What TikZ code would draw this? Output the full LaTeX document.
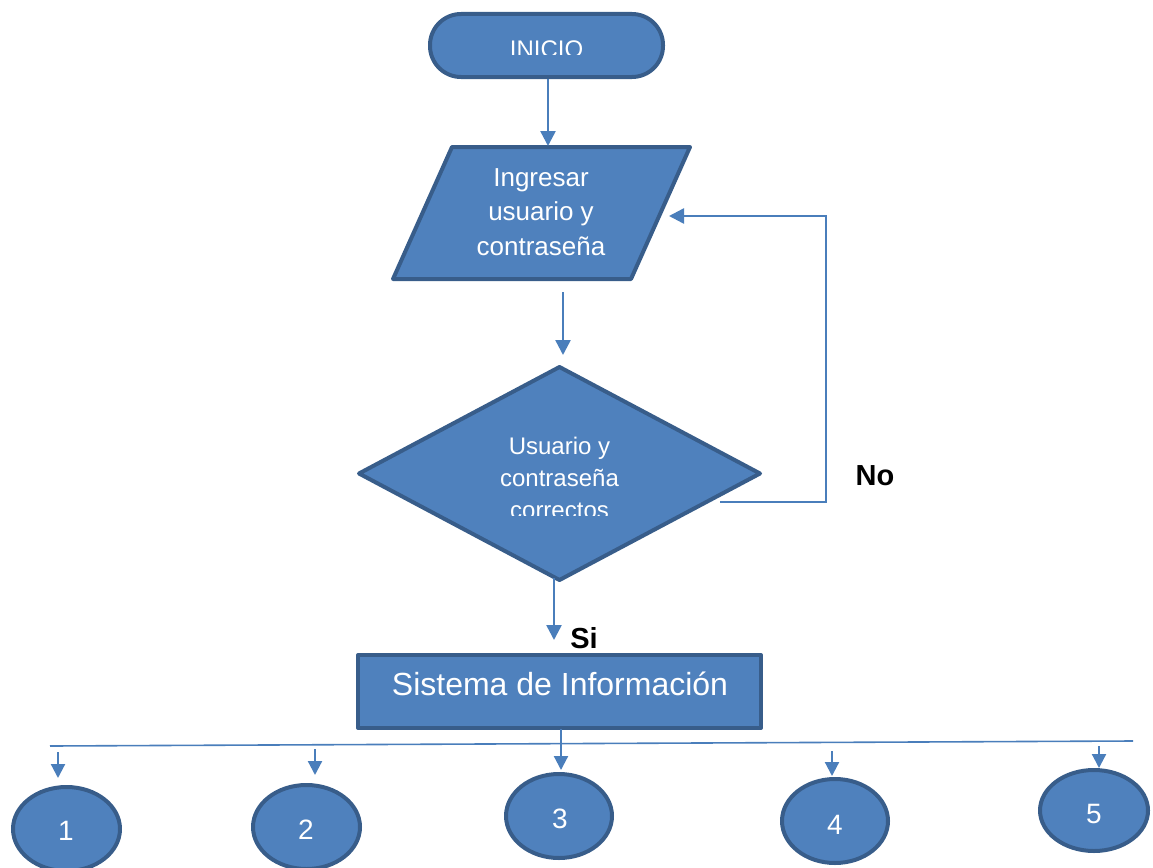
\documentclass[tikz,border=0pt]{standalone}
\usepackage{fontspec}
\setmainfont{Liberation Sans}
\usetikzlibrary{arrows.meta,shapes.geometric}
\definecolor{fillblue}{HTML}{4F81BD}
\definecolor{edgeblue}{HTML}{385D8A}
\definecolor{arrowblue}{HTML}{4A7EBB}
\begin{document}
\begin{tikzpicture}[x=1pt,y=-1pt,
  shapebox/.style={fill=fillblue,draw=edgeblue,line width=4pt,line join=round},
  conn/.style={draw=arrowblue,line width=2.5pt,-{Triangle[width=15pt,length=15pt]}},
  smallconn/.style={draw=arrowblue,line width=2.2pt,-{Triangle[width=14pt,length=14pt]}},
  busline/.style={draw=arrowblue,line width=1.6pt},
  wtxt/.style={text=white,anchor=base,inner sep=0pt},
  btxt/.style={text=black,anchor=base,inner sep=0pt,font=\bfseries\fontsize{29}{34}\selectfont},
  numtxt/.style={wtxt,font=\fontsize{28}{34}\selectfont}]
\useasboundingbox (0,0) rectangle (1153,867);
\clip (0,0) rectangle (1153,867);

% INICIO terminal
\node[shapebox,rounded corners=31pt,minimum width=233pt,minimum height=63pt,inner sep=0pt] (inicio) at (546.5,45.5) {};
\begin{scope}
\clip (430,20) rectangle (663,55);
\node[wtxt,font=\fontsize{24}{28}\selectfont] (tinicio) at (546.5,58) {INICIO};
\end{scope}

% Input parallelogram
\draw[shapebox] (452,147) coordinate (pTL) -- (690,147) coordinate (pTR) -- (631,279) coordinate (pBR) -- (393,279) coordinate (pBL) -- cycle;
\node[wtxt,font=\fontsize{26}{32}\selectfont] (ing1) at (541,186) {Ingresar};
\node[wtxt,font=\fontsize{26}{32}\selectfont] (ing2) at (541,220.5) {usuario y};
\node[wtxt,font=\fontsize{26}{32}\selectfont] (ing3) at (541,255) {contraseña};

% Decision diamond
\draw[shapebox] (559.5,367) coordinate (dT) -- (760,473.5) coordinate (dR) -- (559.5,580) coordinate (dB) -- (359,473.5) coordinate (dL) -- cycle;
\begin{scope}
\clip (380,400) rectangle (740,515);
\node[wtxt,font=\fontsize{24}{30}\selectfont] (dec1) at (559.5,454) {Usuario y};
\node[wtxt,font=\fontsize{24}{30}\selectfont] (dec2) at (559.5,486) {contraseña};
\node[wtxt,font=\fontsize{24}{30}\selectfont] (dec3) at (559.5,518) {correctos};
\end{scope}

% Labels
\node[btxt] (no) at (875,485) {No};
\node[btxt] (si) at (584,648) {Si};

% Process rectangle
\node[shapebox,minimum width=403pt,minimum height=73pt,inner sep=0pt] (sistema) at (559.5,691.5) {};
\node[wtxt,font=\fontsize{32}{38}\selectfont] (tsis) at (560,695) {Sistema de Información};

% Output ellipses
\node[shapebox,ellipse,minimum width=107pt,minimum height=84pt,inner sep=0pt] (c1) at (66.5,829) {};
\node[shapebox,ellipse,minimum width=107pt,minimum height=84pt,inner sep=0pt] (c2) at (306.5,827) {};
\node[shapebox,ellipse,minimum width=106pt,minimum height=84pt,inner sep=0pt] (c3) at (559,816) {};
\node[shapebox,ellipse,minimum width=106pt,minimum height=84pt,inner sep=0pt] (c4) at (835,821) {};
\node[shapebox,ellipse,minimum width=108pt,minimum height=81pt,inner sep=0pt] (c5) at (1094,810.5) {};
\node[numtxt] (n1) at (66,840) {1};
\node[numtxt] (n2) at (306,839) {2};
\node[numtxt] (n3) at (560,828) {3};
\node[numtxt] (n4) at (835,834) {4};
\node[numtxt] (n5) at (1094,823) {5};

% Connector coordinates
\coordinate (a1s) at (548,79);
\coordinate (a1e) at (548,146);
\coordinate (a2s) at (563,292);
\coordinate (a2e) at (563,355);
\coordinate (a3s) at (554,578);
\coordinate (a3e) at (554,640);
\coordinate (loopS) at (720,502);
\coordinate (loopC) at (826,216);
\coordinate (loopE) at (669,216);
\coordinate (sysS) at (561,729);
\coordinate (sysE) at (561,770);
\coordinate (busL) at (50,746);
\coordinate (busR) at (1133,741);
\coordinate (b1s) at (58,752);
\coordinate (b1e) at (58,778);
\coordinate (b2s) at (315,749);
\coordinate (b2e) at (315,775);
\coordinate (b4s) at (832,751);
\coordinate (b4e) at (832,776);
\coordinate (b5s) at (1099,746);
\coordinate (b5e) at (1099,768);

% Connectors
\draw[conn] (a1s) -- (a1e);
\draw[conn] (a2s) -- (a2e);
\draw[conn] (a3s) -- (a3e);
\draw[conn] (loopS) -| (loopC) -- (loopE);
\draw[busline] (busL) -- (busR);
\draw[smallconn] (sysS) -- (sysE);
\draw[smallconn] (b1s) -- (b1e);
\draw[smallconn] (b2s) -- (b2e);
\draw[smallconn] (b4s) -- (b4e);
\draw[smallconn] (b5s) -- (b5e);
\end{tikzpicture}
\end{document}
